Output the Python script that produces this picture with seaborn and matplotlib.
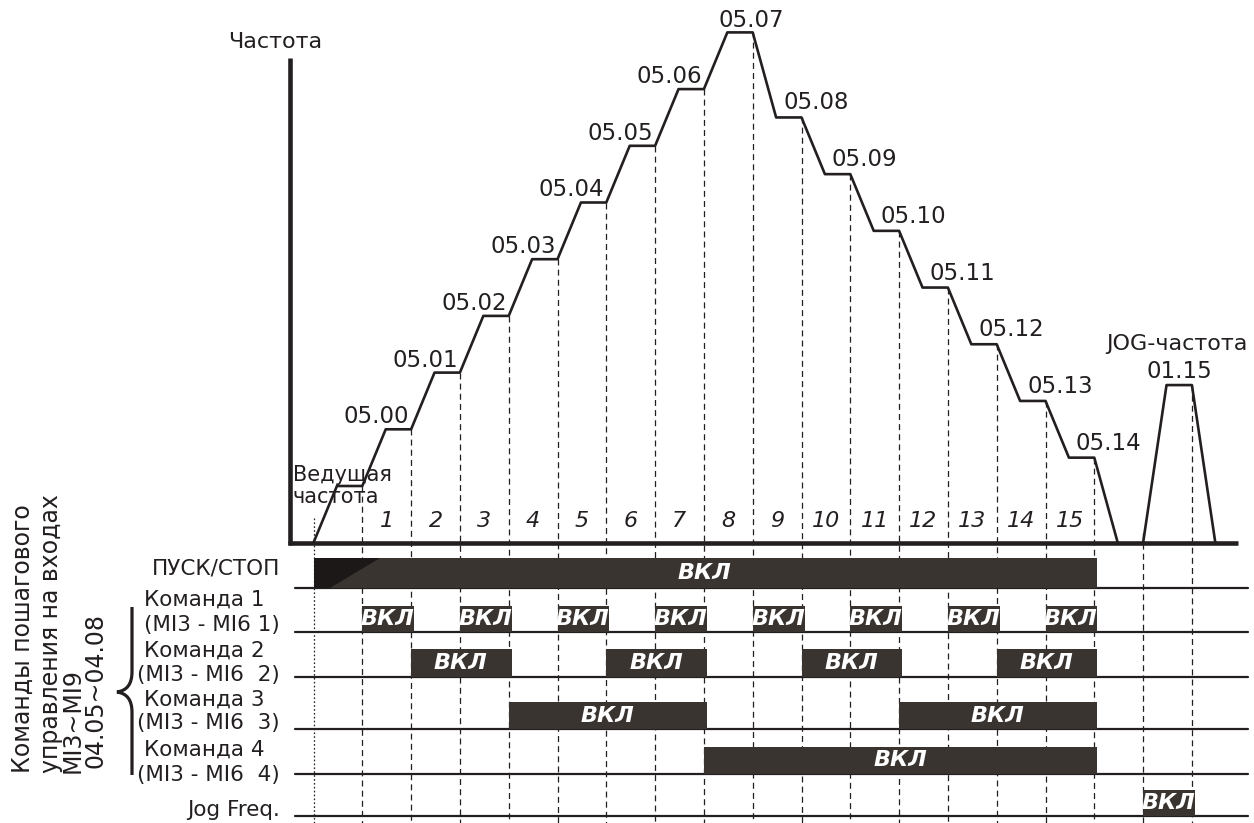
import matplotlib
matplotlib.use("Agg")
import matplotlib.pyplot as plt
from matplotlib.path import Path
from matplotlib.patches import PathPatch, Polygon
import pandas as pd
import seaborn as sns

# ---------------- data ----------------
step_labels = ["Ведущая\nчастота", "05.00", "05.01", "05.02", "05.03", "05.04", "05.05",
               "05.06", "05.07", "05.08", "05.09", "05.10", "05.11", "05.12", "05.13", "05.14"]
step_freq = [1.0, 2.0, 3.0, 4.0, 5.0, 6.0, 7.0, 8.0, 9.0, 7.5, 6.5, 5.5, 4.5, 3.5, 2.5, 1.5]
step_numbers = ["1", "2", "3", "4", "5", "6", "7", "8", "9", "10", "11", "12", "13", "14", "15"]
jog_title = "JOG-частота"
jog_label = "01.15"
jog_freq = 2.78
jog_start = 17
freq_title = "Частота"

signal_names = ["ПУСК/СТОП", "Команда 1", "Команда 2", "Команда 3", "Команда 4", "Jog Freq."]
signal_inputs = ["", "(MI3 - MI6 1)", "(MI3 - MI6  2)", "(MI3 - MI6  3)", "(MI3 - MI6  4)", ""]
run_on = [(0, 16)]
cmd1_on = [(1, 2), (3, 4), (5, 6), (7, 8), (9, 10), (11, 12), (13, 14), (15, 16)]
cmd2_on = [(2, 4), (6, 8), (10, 12), (14, 16)]
cmd3_on = [(4, 8), (12, 16)]
cmd4_on = [(8, 16)]
jog_on = [(17, 18)]
signal_on = [run_on, cmd1_on, cmd2_on, cmd3_on, cmd4_on, jog_on]
on_text = "ВКЛ"
side_title = ["Команды пошагового", "управления на входах", "MI3~MI9", "04.05~04.08"]

# ---------------- layout (pixel based) ----------------
W, H = 1254, 823
X0, DX = 313.5, 48.8     # time origin / px per step
Y0, DY = 542.7, 56.7     # freq origin / px per unit


def tx(px):
    return (px - X0) / DX


def fy(py):
    return (Y0 - py) / DY


ink = "#231f20"
bar_col = "#3a3431"
dark_col = "#1c1817"
ramp = 0.48

row_base_px = [588, 632, 677, 729, 774, 816]
row_h_px = [30, 26, 28, 27, 27, 26]
name_y_px = [569, 600, 651, 700, 750, 810]
input_y_px = [None, 625, 675, 723, 775, None]

sns.set_theme(style="white")
plt.rcParams["font.family"] = ["DejaVu Sans"]
plt.rcParams["lines.scale_dashes"] = False

fig = plt.figure(figsize=(W / 100, H / 100), dpi=100)
ax = fig.add_axes([0, 0, 1, 1])

# ---------------- frequency profile ----------------
xs, ys = [0.0], [0.0]
for k, f in enumerate(step_freq):
    xs += [k + ramp, k + 1]
    ys += [f, f]
xs.append(len(step_freq) + ramp)
ys.append(0.0)
prof = pd.DataFrame({"t": xs, "f": ys})
sns.lineplot(data=prof, x="t", y="f", sort=False, estimator=None, color=ink,
             lw=1.9, ax=ax, zorder=5)

jog = pd.DataFrame({"t": [jog_start, jog_start + ramp, jog_start + 1, jog_start + 1 + ramp],
                    "f": [0, jog_freq, jog_freq, 0]})
sns.lineplot(data=jog, x="t", y="f", sort=False, estimator=None, color=ink,
             lw=1.9, ax=ax, zorder=5)
ax.set_xlabel("")
ax.set_ylabel("")
ax.set_xlim(tx(0), tx(W))
ax.set_ylim(fy(H), fy(0))
ax.axis("off")

# axes of the frequency diagram
ax.plot([tx(289.5), tx(289.5)], [fy(545), fy(58)], color=ink, lw=3.3,
        solid_capstyle="butt", zorder=6)
ax.plot([tx(287.5), tx(1238)], [fy(543), fy(543)], color=ink, lw=3.3,
        solid_capstyle="butt", zorder=6)

# vertical guide lines
bottom = fy(H)
dash = (0, (4.3, 3.0))
ax.plot([0, 0], [fy(518), bottom], color=ink, lw=0.9, ls=(0, (1.2, 1.6)), zorder=1)
for k in range(1, len(step_freq) + 1):
    ax.plot([k, k], [step_freq[k - 1], bottom], color=ink, lw=0.9, ls=dash, zorder=1)
ax.plot([jog_start, jog_start], [fy(533), bottom], color=ink, lw=0.9, ls=dash, zorder=1)
ax.plot([jog_start + 1, jog_start + 1], [jog_freq, bottom], color=ink, lw=0.9, ls=dash, zorder=1)

# ---------------- labels on the frequency diagram ----------------
lab_fs = 16.5
ax.text(tx(228), fy(42), freq_title, fontsize=16, color=ink, ha="left", va="center")
m1, m2 = step_labels[0].split("\n")
ax.text(tx(293), fy(475), m1, fontsize=15, color=ink, ha="left", va="center", zorder=7)
ax.text(tx(293), fy(497), m2, fontsize=15, color=ink, ha="left", va="center", zorder=7)
for k in range(1, 8):
    ax.text(k + 1 - 2 / DX, step_freq[k] + 6 / DY, step_labels[k], fontsize=lab_fs,
            color=ink, ha="right", va="baseline")
ax.text(9 - 1 / DX, step_freq[8] + 5 / DY, step_labels[8], fontsize=lab_fs,
        color=ink, ha="center", va="baseline")
for k in range(9, len(step_freq)):
    ax.text(k + ramp + 7 / DX, step_freq[k] + 8 / DY, step_labels[k], fontsize=lab_fs,
            color=ink, ha="left", va="baseline")
ax.text(jog_start + (ramp + 1) / 2, jog_freq + 7 / DY, jog_label, fontsize=lab_fs,
        color=ink, ha="center", va="baseline")
ax.text(jog_start + (ramp + 1) / 2 - 2 / DX, jog_freq + 35 / DY, jog_title, fontsize=16,
        color=ink, ha="center", va="baseline")
for i, s in enumerate(step_numbers):
    ax.text(i + 1.5, fy(521), s, fontsize=16, style="italic", color=ink,
            ha="center", va="center")

# ---------------- timing diagram ----------------
for r, (base, hh) in enumerate(zip(row_base_px, row_h_px)):
    ax.plot([tx(295), tx(1248)], [fy(base), fy(base)], color=ink, lw=1.6, zorder=2)
    for (s, e) in signal_on[r]:
        ax.bar(x=s, height=hh / DY, width=(e - s) + 3 / DX, bottom=fy(base), align="edge",
               color=bar_col, edgecolor="none", zorder=3)
        cx = (s + e) / 2 + 1 / DX
        ax.text(cx, fy(base - hh / 2), on_text, fontsize=16, fontweight="bold",
                style="italic", color="white", ha="center", va="center", zorder=8)

# darker wedge at the start of the run bar
wedge = [(tx(314), fy(558)), (tx(380), fy(558)), (tx(330), fy(588)), (tx(314), fy(588))]
ax.add_patch(Polygon(wedge, closed=True, color=dark_col, zorder=4, lw=0))

# row labels
row_fs = 15.5
for r, name in enumerate(signal_names):
    if signal_inputs[r]:
        ax.text(tx(144), fy(name_y_px[r]), name, fontsize=row_fs, color=ink,
                ha="left", va="center")
        ax.text(tx(280), fy(input_y_px[r]), signal_inputs[r], fontsize=row_fs, color=ink,
                ha="right", va="center")
    else:
        ax.text(tx(280), fy(name_y_px[r]), name, fontsize=row_fs, color=ink,
                ha="right", va="center")

# rotated group title
base_x = [30, 58, 80, 103]
start_y = [773, 773, 773, 768]
for s, bx, sy in zip(side_title, base_x, start_y):
    ax.text(tx(bx), fy(sy), s, fontsize=17, color=ink, rotation=90,
            rotation_mode="anchor", ha="left", va="baseline")

# curly brace
bx0, tipx = 132, 117
verts = [(bx0, 607), (bx0, 672), (bx0, 690), (tipx, 692), (bx0, 694), (bx0, 712), (bx0, 775)]
verts = [(tx(a), fy(b)) for a, b in verts]
codes = [Path.MOVETO, Path.LINETO, Path.CURVE3, Path.CURVE3, Path.CURVE3, Path.CURVE3, Path.LINETO]
ax.add_patch(PathPatch(Path(verts, codes), fill=False, color=ink, lw=2.3))

fig.savefig("out.png", dpi=100, facecolor="white")
